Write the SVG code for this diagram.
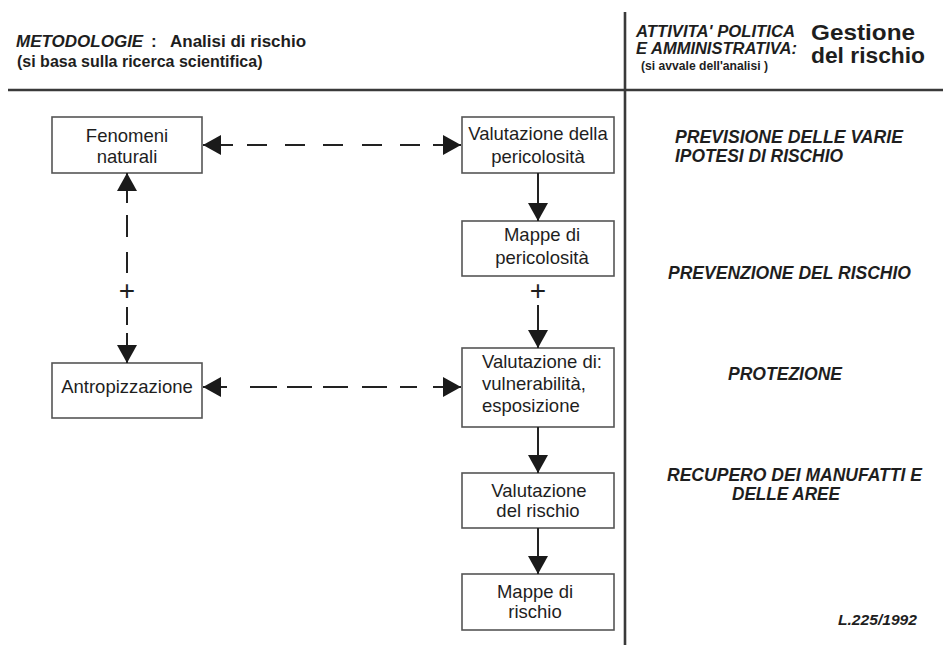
<svg xmlns="http://www.w3.org/2000/svg" width="943" height="645" viewBox="0 0 943 645">
<style>
text{font-family:"Liberation Sans",Arial,sans-serif;fill:#1e1e1e}
.h{font-weight:bold;font-size:17px}
.hi{font-weight:bold;font-style:italic;font-size:17px}
.rt{font-weight:bold;font-style:italic;font-size:17.5px}
.bx{font-size:18.5px}
.c{text-anchor:middle}
.box{fill:#fff;stroke:#555;stroke-width:1.6}
.rule{stroke:#3a3a3a;stroke-width:2.6;fill:none}
.con{stroke:#222;stroke-width:2;fill:none}
</style>
<defs>
<marker id="ah" viewBox="0 0 18 20" refX="18" refY="10" markerWidth="18" markerHeight="20" markerUnits="userSpaceOnUse" orient="auto-start-reverse">
<path d="M0,0 L18,10 L0,20 z" fill="#1a1a1a"/>
</marker>
</defs>
<rect width="943" height="645" fill="#fff"/>
<g id="frame">
<line class="rule" x1="8" y1="90" x2="943" y2="90"/>
<line class="rule" x1="625" y1="12" x2="625" y2="645"/>
</g>
<g id="header-left">
<text class="hi" x="16" y="47">METODOLOGIE</text>
<text class="h" x="151" y="47">:</text>
<text class="h" x="170" y="47">Analisi di rischio</text>
<text class="h" x="17" y="67" style="font-size:16px">(si basa sulla ricerca scientifica)</text>
</g>
<g id="header-right">
<text class="hi" x="636" y="37" style="font-size:16px" textLength="159" lengthAdjust="spacingAndGlyphs">ATTIVITA' POLITICA</text>
<text class="hi" x="636" y="54" style="font-size:16px" textLength="161" lengthAdjust="spacingAndGlyphs">E AMMINISTRATIVA:</text>
<text class="h" x="641" y="70" style="font-size:13.5px" textLength="127" lengthAdjust="spacingAndGlyphs">(si avvale dell'analisi )</text>
<text class="h" x="811" y="40" style="font-size:22px" textLength="104" lengthAdjust="spacingAndGlyphs">Gestione</text>
<text class="h" x="811" y="63" style="font-size:22px" textLength="114" lengthAdjust="spacingAndGlyphs">del rischio</text>
</g>
<g id="fenomeni">
<rect class="box" x="52" y="117" width="150" height="56"/>
<text class="bx c" x="127" y="142">Fenomeni</text>
<text class="bx c" x="127" y="163">naturali</text>
</g>
<g id="antropizzazione">
<rect class="box" x="52" y="363" width="150" height="55"/>
<text class="bx c" x="127" y="393">Antropizzazione</text>
</g>
<g id="val-pericolosita">
<rect class="box" x="462" y="117" width="152" height="56"/>
<text class="bx c" x="538" y="140">Valutazione della</text>
<text class="bx c" x="538" y="163">pericolosità</text>
</g>
<g id="mappe-pericolosita">
<rect class="box" x="462" y="221" width="152" height="55"/>
<text class="bx c" x="542" y="241">Mappe di</text>
<text class="bx c" x="542" y="264">pericolosità</text>
</g>
<g id="val-vulnerabilita">
<rect class="box" x="462" y="348" width="152" height="79"/>
<text class="bx" x="482" y="368">Valutazione di:</text>
<text class="bx" x="482" y="390">vulnerabilità,</text>
<text class="bx" x="482" y="412">esposizione</text>
</g>
<g id="val-rischio">
<rect class="box" x="462" y="473" width="152" height="55"/>
<text class="bx c" x="539" y="497">Valutazione</text>
<text class="bx c" x="538" y="517">del rischio</text>
</g>
<g id="mappe-rischio">
<rect class="box" x="462" y="574" width="152" height="56"/>
<text class="bx c" x="535" y="598">Mappe di</text>
<text class="bx c" x="535" y="618">rischio</text>
</g>
<g id="connectors">
<path class="con" d="M203,145 H461" stroke-dasharray="30 14 20 18 20 18 20 19 20 18 20 13 28" marker-start="url(#ah)" marker-end="url(#ah)"/>
<path class="con" d="M203,387 H461" stroke-dasharray="24 23 27 10 25 11 25 14 25 13 17 16 28" marker-start="url(#ah)" marker-end="url(#ah)"/>
<path class="con" d="M127,173 V363" stroke-dasharray="30 12 22 15 21 34 18 8 30" marker-start="url(#ah)" marker-end="url(#ah)"/>
<path class="con" d="M538,173 V221" marker-end="url(#ah)"/>
<path class="con" d="M538,305 V348" marker-end="url(#ah)"/>
<path class="con" d="M538,427 V473" marker-end="url(#ah)"/>
<path class="con" d="M538,528 V574" marker-end="url(#ah)"/>
<text x="127" y="300" style="font-size:28px" class="c">+</text>
<text x="538" y="300" style="font-size:28px" class="c">+</text>
</g>
<g id="right-column">
<text class="rt" x="675" y="143" textLength="228" lengthAdjust="spacingAndGlyphs">PREVISIONE DELLE VARIE</text>
<text class="rt" x="675" y="162" textLength="168" lengthAdjust="spacingAndGlyphs">IPOTESI DI RISCHIO</text>
<text class="rt" x="668" y="279" textLength="243" lengthAdjust="spacingAndGlyphs">PREVENZIONE DEL RISCHIO</text>
<text class="rt" x="728" y="380" textLength="114" lengthAdjust="spacingAndGlyphs">PROTEZIONE</text>
<text class="rt" x="667" y="481" textLength="255" lengthAdjust="spacingAndGlyphs">RECUPERO DEI MANUFATTI E</text>
<text class="rt" x="732" y="500" textLength="108" lengthAdjust="spacingAndGlyphs">DELLE AREE</text>
<text class="rt" x="838" y="625" style="font-size:15px" textLength="79" lengthAdjust="spacingAndGlyphs">L.225/1992</text>
</g>
</svg>
